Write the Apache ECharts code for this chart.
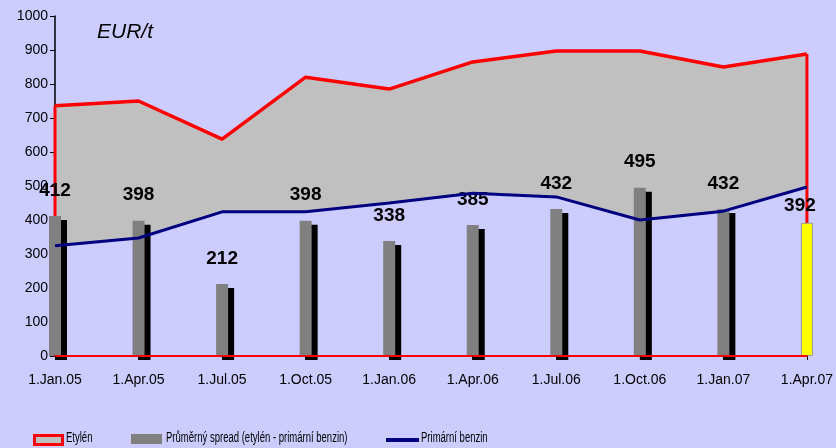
<!DOCTYPE html>
<html>
<head>
<meta charset="utf-8">
<script src="https://cdn.jsdelivr.net/npm/echarts@6/dist/echarts.min.js"></script>
<style>
  html, body { margin: 0; padding: 0; background: #ccccff; }
  #chart { width: 836px; height: 448px; }
</style>
</head>
<body>
<div id="chart"></div>
<script>
var categories = ['1.Jan.05', '1.Apr.05', '1.Jul.05', '1.Oct.05', '1.Jan.06', '1.Apr.06', '1.Jul.06', '1.Oct.06', '1.Jan.07', '1.Apr.07'];
var etylen = [736, 750, 638, 820, 785, 865, 897, 897, 850, 888];
var benzin = [324, 347, 424, 424, 450, 479, 468, 400, 426, 497];
var spread = [412, 398, 212, 398, 338, 385, 432, 495, 432, 392];
var yTicks = [0, 1000, 100];
var legendNames = ['Etylén', 'Průměrný spread (etylén - primární benzin)', 'Primární benzin'];

var FONT = 'Liberation Sans, Arial, sans-serif';

var chartDom = document.getElementById('chart');
var myChart = echarts.init(chartDom);

// rozdil etylen - benzin pro sedou plochu
var gap = etylen.map(function (v, i) { return v - benzin[i]; });

// posledni sloupec je zluty
var barData = spread.map(function (v, i) {
    if (i == spread.length - 1) {
        return {
            value: v,
            itemStyle: { color: '#ffff00', shadowColor: 'transparent', borderColor: '#999999', borderWidth: 1 },
            label: { offset: [-7, 9] }
        };
    }
    return v;
});

var last = categories.length - 1;

// texty legendy jsou zuzene (pismo narrow neni k dispozici)
function legendText(x, name) {
    return {
        type: 'text',
        x: x,
        y: 438,
        scaleX: 0.68,
        style: { text: name, font: '14px ' + FONT, fill: '#000', verticalAlign: 'middle' }
    };
}

var option = {
    backgroundColor: '#ccccff',
    animation: false,
    grid: { left: 55, right: 29, top: 16, bottom: 92 },
    graphic: [
        {
            type: 'text',
            left: 97,
            top: 22,
            style: { text: 'EUR/t', font: 'italic 21px ' + FONT, fill: '#000' }
        },
        legendText(66, legendNames[0]),
        legendText(166, legendNames[1]),
        legendText(421, legendNames[2])
    ],
    legend: [
        {
            left: 33, top: 434, padding: 0, itemWidth: 28, itemHeight: 9, itemGap: 0,
            formatter: function () { return ''; },
            data: [{ name: legendNames[0], icon: 'rect', itemStyle: { color: '#c0c0c0', borderColor: '#ff0000', borderWidth: 3 } }]
        },
        {
            left: 131, top: 434, padding: 0, itemWidth: 31, itemHeight: 10, itemGap: 0,
            formatter: function () { return ''; },
            data: [{ name: legendNames[1], icon: 'rect', itemStyle: { color: '#808080', shadowColor: 'transparent' } }]
        },
        {
            left: 386, top: 438, padding: 0, itemWidth: 33, itemHeight: 4, itemGap: 0,
            formatter: function () { return ''; },
            data: [{ name: legendNames[2], icon: 'rect', itemStyle: { color: '#000080' } }]
        }
    ],
    xAxis: {
        type: 'category',
        data: categories,
        boundaryGap: false,
        z: 10,
        axisLine: { lineStyle: { color: '#ff0000', width: 2 } },
        axisTick: { show: true, length: 4, inside: false, lineStyle: { color: '#000', width: 1 } },
        axisLabel: { color: '#000', fontFamily: FONT, fontSize: 14, margin: 17, interval: 0 },
        splitLine: { show: false }
    },
    yAxis: {
        type: 'value',
        min: yTicks[0],
        max: yTicks[1],
        interval: yTicks[2],
        axisLine: { show: true, lineStyle: { color: '#000', width: 1.5 } },
        axisTick: { show: true, length: 5, lineStyle: { color: '#000' } },
        axisLabel: { color: '#000', fontFamily: FONT, fontSize: 14, margin: 7, formatter: function (v) { return String(v); } },
        splitLine: { show: false }
    },
    series: [
        {
            name: 'base',
            type: 'line',
            stack: 'sp',
            data: benzin,
            symbol: 'none',
            silent: true,
            lineStyle: { width: 0, opacity: 0 },
            z: 1
        },
        {
            name: legendNames[0],
            type: 'line',
            stack: 'sp',
            data: gap,
            symbol: 'none',
            lineStyle: { color: '#ff0000', width: 3.5 },
            itemStyle: { color: '#ff0000' },
            areaStyle: { color: '#c0c0c0', opacity: 1 },
            z: 2
        },
        {
            name: 'edgeLeft',
            type: 'line',
            data: [[0, 0], [0, etylen[0]]],
            symbol: 'none',
            lineStyle: { color: '#ff0000', width: 3 },
            z: 2
        },
        {
            name: 'edgeRight',
            type: 'line',
            data: [[last, 0], [last, etylen[last]]],
            symbol: 'none',
            lineStyle: { color: '#ff0000', width: 3 },
            z: 2
        },
        {
            name: legendNames[1],
            type: 'bar',
            data: barData,
            barWidth: 12,
            itemStyle: {
                color: '#808080',
                shadowColor: '#000000',
                shadowOffsetX: 6,
                shadowOffsetY: 4,
                shadowBlur: 0
            },
            label: {
                show: true,
                position: 'top',
                distance: 16,
                color: '#000',
                fontFamily: FONT,
                fontWeight: 'bold',
                fontSize: 19
            },
            z: 3
        },
        {
            name: legendNames[2],
            type: 'line',
            data: benzin,
            symbol: 'none',
            lineStyle: { color: '#000080', width: 3 },
            itemStyle: { color: '#000080' },
            z: 4
        }
    ]
};

myChart.setOption(option);
</script>
</body>
</html>
